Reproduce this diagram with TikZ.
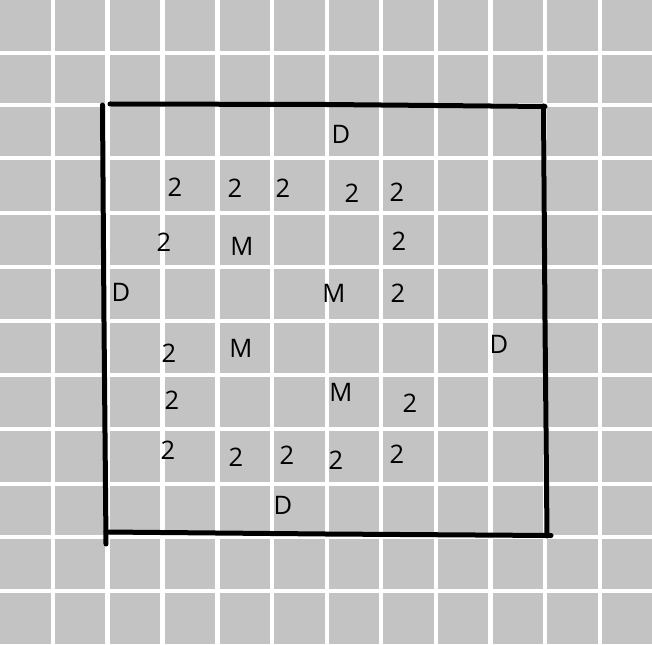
\documentclass[tikz,border=0pt]{standalone}
\usepackage{fontspec}
\setsansfont{Open Sans}
\definecolor{boardgrey}{RGB}{195,195,195}
\definecolor{ink}{RGB}{0,0,0}

\begin{document}
\begin{tikzpicture}[
    x=1pt,
    y=-1pt,
    font=\sffamily\fontsize{25.5}{28}\selectfont,
    line cap=round,
    line join=round,
    gridline/.style={
      draw=white,
      line width=4.5pt,
      line cap=butt
    },
    frame/.style={
      draw=ink,
      line width=5pt
    },
    piece/.style={
      text=ink,
      inner sep=0pt
    }
]

% Board background and its white grid.
\fill[boardgrey] (0,0) rectangle (652,644);
\useasboundingbox (0,0) rectangle (652,644);

\foreach \x in {53,107.5,162.5,217.5,272,327,381,436,490.5,545,600} {
  \draw[gridline] (\x,0) -- (\x,644);
}
\foreach \y in {53,105,158,213,267,321,375,429,484,537,591} {
  \draw[gridline] (0,\y) -- (652,\y);
}

% Hand-drawn outline.
\draw[frame] (110,104) -- (326,104.5) -- (545,106.5);
\draw[frame] (102.5,105) -- (104,322) -- (106,544);
\draw[frame] (106,532) -- (326,534) -- (551,535.5);
\draw[frame] (543.5,106) -- (545,322) -- (547,536);

% Letters D and M.
\foreach \x/\y/\t [count=\i] in {
  341/134/D, 121/292/D, 499/344/D, 283/505/D,
  242/246/M, 334/293/M, 241/348/M, 341/392/M
} {
  \node[piece] (letter\i) at (\x,\y) {\t};
}

% Digits 2.
\foreach \x/\y [count=\i] in {
  175/187, 235/188, 283/188, 352/193, 397/192,
  164/242, 399/241, 398/293,
  169/353, 172/400, 410/403,
  168/450, 236/457, 287/455, 336/460, 397/454
} {
  \node[piece] (two\i) at (\x,\y) {2};
}

\end{tikzpicture}
\end{document}
